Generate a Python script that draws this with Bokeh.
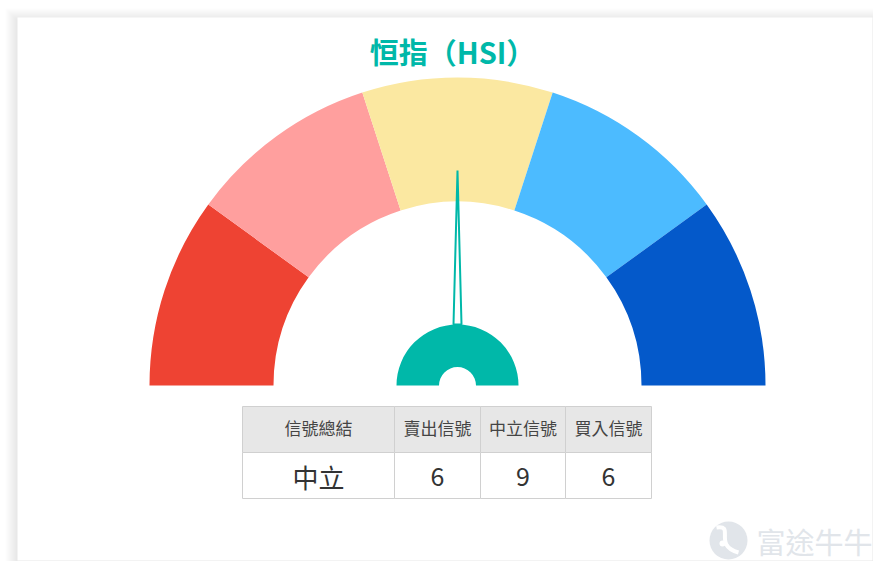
import math
from bokeh.plotting import figure
from bokeh.models import Range1d
from bokeh.core.properties import value
from bokeh.embed import file_html
from bokeh.resources import INLINE

# ---------------- data ----------------
title_text = "恒指（HSI）"
band_names = ["強烈賣出", "賣出", "中立", "買入", "強烈買入"]
band_colors = ["#EE4333", "#FF9F9E", "#FBE8A1", "#4CBBFF", "#0459CA"]
gauge_min = 0
gauge_max = 100
gauge_value = 50

table_headers = ["信號總結", "賣出信號", "中立信號", "買入信號"]
table_summary = ["中立"]
table_counts = ["6", "9", "6"]
watermark = "富途牛牛"

TEAL = "#00B8A9"
FONT = "Noto Sans CJK TC"

# ---------------- layout helpers (reference pixel coords) ----------------
W, H = 873, 561
def Y(py):
    return H - py

p = figure(width=W, height=H, output_backend="svg", toolbar_location=None,
           x_range=Range1d(0, W), y_range=Range1d(0, H),
           min_border=0, background_fill_color="white", border_fill_color="white")
p.axis.visible = False
p.grid.visible = False
p.outline_line_color = None

# card shadow + card
for k in range(12, 0, -1):
    p.quad(left=17 - k, right=872 + k, top=Y(17 - k + 3), bottom=Y(560 + k),
           fill_color="#000000", fill_alpha=0.006, line_color=None)
p.quad(left=17, right=872, top=Y(17), bottom=Y(560), fill_color="white", line_color=None)

# title
p.text(x=[452], y=[Y(50)], text=[title_text], text_color=TEAL,
       text_font=value(FONT), text_font_style="bold", text_font_size="29px",
       text_align="center", text_baseline="middle")

# gauge
cx, cy = 457, Y(385)
r_in, r_out = 184, 308
n = len(band_names)
step = 180.0 / n
starts = [180 - step * (i + 1) for i in range(n)]
ends = [180 - step * i for i in range(n)]
p.annular_wedge(x=[cx] * n, y=[cy] * n, inner_radius=r_in, outer_radius=r_out,
                start_angle=starts, end_angle=ends, start_angle_units="deg",
                end_angle_units="deg", fill_color=band_colors, line_color=None)

# needle
ang = math.radians(180 - (gauge_value - gauge_min) / (gauge_max - gauge_min) * 180)
tip_len, base_r, half_w = 215, 61, 4
ux, uy = math.cos(ang), math.sin(ang)
nx, ny = -uy, ux
xs = [cx + ux * tip_len, cx + ux * base_r + nx * half_w, cx + ux * base_r - nx * half_w]
ys = [cy + uy * tip_len, cy + uy * base_r + ny * half_w, cy + uy * base_r - ny * half_w]
p.patch(x=xs, y=ys, fill_color="white", fill_alpha=0.0, line_color=TEAL, line_width=2)

# hub
p.annular_wedge(x=[cx], y=[cy], inner_radius=18.5, outer_radius=61,
                start_angle=[0], end_angle=[180], start_angle_units="deg",
                end_angle_units="deg", fill_color=TEAL, line_color=None)

# table
col_edges = [242, 394, 480, 565, 651]
row_edges = [406, 452, 498]
nc = len(table_headers)
lefts = col_edges[:-1]
rights = col_edges[1:]
p.quad(left=lefts, right=rights, top=[Y(row_edges[0])] * nc, bottom=[Y(row_edges[1])] * nc,
       fill_color="#E7E7E7", line_color="#D0D0D0", line_width=1)
p.quad(left=lefts, right=rights, top=[Y(row_edges[1])] * nc, bottom=[Y(row_edges[2])] * nc,
       fill_color="white", line_color="#D0D0D0", line_width=1)
centers = [(a + b) / 2 for a, b in zip(lefts, rights)]
p.text(x=centers, y=[Y(427)] * nc, text=table_headers, text_color="#444444",
       text_font=value(FONT), text_font_size="17px",
       text_align="center", text_baseline="middle")
p.text(x=centers[:1], y=[Y(476)], text=table_summary, text_color="#333333",
       text_font=value(FONT), text_font_size="26px",
       text_align="center", text_baseline="middle")
p.text(x=centers[1:], y=[Y(476)] * (nc - 1), text=table_counts, text_color="#333333",
       text_font=value(FONT), text_font_size="25px",
       text_align="center", text_baseline="middle")

# watermark
WM = "#E1E5EA"
p.circle(x=[728], y=[Y(540)], radius=19, fill_color=WM, line_color=None)
p.bezier(x0=[716], y0=[Y(527)], x1=[738], y1=[Y(552)], cx0=[735], cy0=[Y(524)],
         cx1=[712], cy1=[Y(545)], line_color="white", line_width=4)
p.circle(x=[722], y=[Y(543)], radius=3, fill_color="white", line_color=None)
p.text(x=[756], y=[Y(540)], text=[watermark], text_color=WM,
       text_font=value(FONT), text_font_size="29px",
       text_align="left", text_baseline="middle")

open("out.html", "w").write(file_html(p, INLINE))
